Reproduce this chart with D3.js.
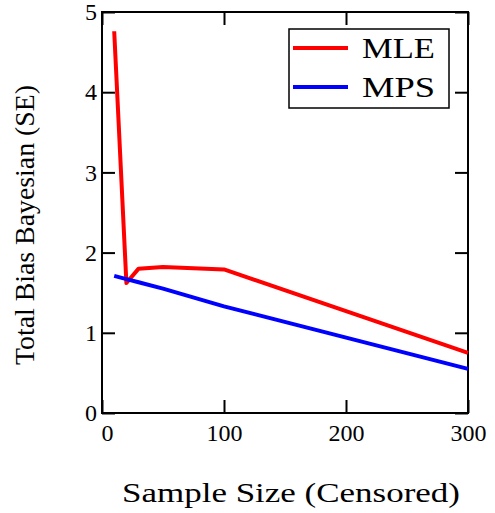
<!DOCTYPE html>
<html>
<head>
<meta charset="utf-8">
<script src="https://cdn.jsdelivr.net/npm/d3@7"></script>
<style>
  body { margin: 0; background: #fff; }
  svg { display: block; font-family: "Liberation Serif", "DejaVu Serif", serif; }
</style>
</head>
<body>
<svg id="chart" width="495" height="513"></svg>
<script>
// данные
const sampleSizes = [10, 20, 30, 50, 100, 300];
const mleValues = [4.76, 1.62, 1.80, 1.82, 1.79, 0.75];
const mpsValues = [1.71, 1.67, 1.63, 1.55, 1.33, 0.55];
const xTicks = [0, 100, 200, 300];
const yTicks = [0, 1, 2, 3, 4, 5];
const seriesNames = ["MLE", "MPS"];
const seriesColors = ["#ff0000", "#0000ff"];

const svg = d3.select("#chart");

// область графика
const area = { left: 102, right: 468, top: 12, bottom: 413 };

const scX = d3.scaleLinear().domain([0, 300]).range([area.left, area.right]);
const scY = d3.scaleLinear().domain([0, 5]).range([area.bottom, area.top]);

const tickLen = 13;

// рамка
svg.append("rect")
    .attr("x", area.left).attr("y", area.top)
    .attr("width", area.right - area.left)
    .attr("height", area.bottom - area.top)
    .attr("fill", "none")
    .attr("stroke", "#000")
    .attr("stroke-width", 2);

// оси: засечки внутрь
const axB = svg.append("g")
    .attr("transform", `translate(0, ${area.bottom})`)
    .call(d3.axisBottom(scX).tickValues(xTicks).tickSize(-tickLen).tickPadding(11).tickFormat(d3.format("d")));
const axT = svg.append("g")
    .attr("transform", `translate(0, ${area.top})`)
    .call(d3.axisTop(scX).tickValues(xTicks).tickSize(-tickLen).tickFormat(""));
const axL = svg.append("g")
    .attr("transform", `translate(${area.left}, 0)`)
    .call(d3.axisLeft(scY).tickValues(yTicks).tickSize(-tickLen).tickPadding(5).tickFormat(d3.format("d")));
const axR = svg.append("g")
    .attr("transform", `translate(${area.right}, 0)`)
    .call(d3.axisRight(scY).tickValues(yTicks).tickSize(-tickLen).tickFormat(""));

[axB, axT, axL, axR].forEach(g => {
    g.select(".domain").remove();
    g.selectAll("line").attr("stroke", "#000").attr("stroke-width", 2);
    g.selectAll("text")
        .attr("fill", "#000")
        .style("font-family", "Liberation Serif, serif")
        .style("font-size", "24px");
});
// ноль по X чуть правее, как в оригинале
axB.selectAll("text").filter(d => d === 0).attr("dx", 5);

// линии
const line = d3.line()
    .x((d, i) => scX(sampleSizes[i]))
    .y(d => scY(d));

[mleValues, mpsValues].forEach((vals, i) => {
    svg.append("path")
        .datum(vals)
        .attr("d", line)
        .attr("fill", "none")
        .attr("stroke", seriesColors[i])
        .attr("stroke-width", 4)
        .attr("stroke-linejoin", "round");
});

// легенда
const leg = svg.append("g");
leg.append("rect")
    .attr("x", 289).attr("y", 29)
    .attr("width", 160).attr("height", 79)
    .attr("fill", "#fff")
    .attr("stroke", "#000")
    .attr("stroke-width", 1.5);
seriesNames.forEach((name, i) => {
    const y = 48 + i * 39;
    leg.append("line")
        .attr("x1", 293).attr("x2", 348)
        .attr("y1", y).attr("y2", y)
        .attr("stroke", seriesColors[i])
        .attr("stroke-width", 4);
    leg.append("text")
        .attr("x", 362).attr("y", y + 10)
        .attr("font-size", 30)
        .attr("textLength", 73)
        .attr("lengthAdjust", "spacingAndGlyphs")
        .text(name);
});

// подписи осей
svg.append("text")
    .attr("x", 291).attr("y", 502)
    .attr("text-anchor", "middle")
    .attr("font-size", 28)
    .attr("textLength", 338)
    .attr("lengthAdjust", "spacingAndGlyphs")
    .text("Sample Size (Censored)");

svg.append("text")
    .attr("transform", "translate(34, 225) rotate(-90)")
    .attr("text-anchor", "middle")
    .attr("font-size", 28)
    .attr("textLength", 280)
    .attr("lengthAdjust", "spacingAndGlyphs")
    .text("Total Bias Bayesian (SE)");
</script>
</body>
</html>
